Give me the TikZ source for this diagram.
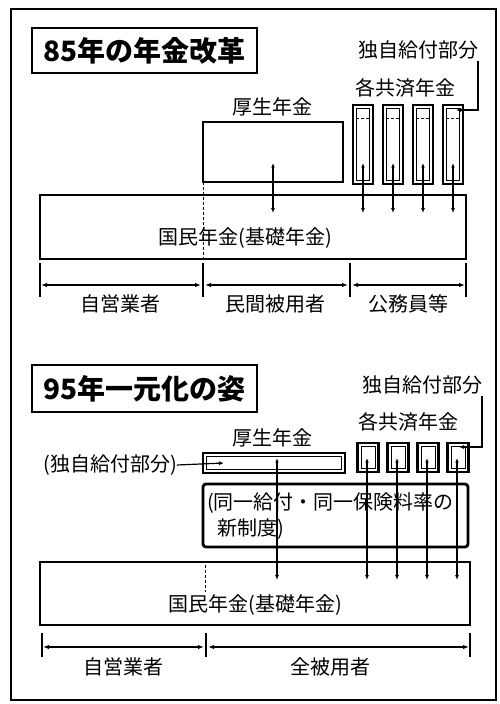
\documentclass[tikz,border=0pt]{standalone}
\usepackage{fontspec}
\setmainfont{Noto Sans CJK JP}
\usetikzlibrary{arrows.meta}
\begin{document}
\begin{tikzpicture}[x=1pt,y=-1pt,
 lbl/.style={inner sep=0pt, font=\fontsize{20}{24}\selectfont},
 ttl/.style={draw, line width=2.2pt, inner sep=0pt, font=\fontsize{28}{32}\selectfont\bfseries},
 heavy/.style={draw, line width=2.8pt, inner sep=0pt, outer sep=0pt},
 medbox/.style={draw, line width=2.3pt, inner sep=0pt, outer sep=0pt},
 innerln/.style={line width=0.8pt},
 flow/.style={line width=1.2pt, {Latex[length=4.5pt,width=3.5pt]}-{Latex[length=5pt,width=4pt]}},
 conn/.style={line width=1.2pt, -{Latex[length=5pt,width=4pt]}},
 dim/.style={line width=1.4pt, {Latex[length=6pt,width=4.5pt]}-{Latex[length=6pt,width=4.5pt]}},
 tick/.style={line width=1.2pt},
 dsh/.style={line width=1pt, dash pattern=on 3pt off 2pt},
]
\useasboundingbox (0,0) rectangle (500,704);
\node[draw, line width=1.6pt, minimum width=485pt, minimum height=691pt, inner sep=0pt] (frame) at (253.5,354.5) {};

% ---------- Section 1 ----------
\node[ttl, minimum width=225pt, minimum height=45pt] (t1) at (144.5,50.5) {85年の年金改革};
\node[lbl] (dj1) at (418,50) {独自給付部分};
\node[lbl] (kl1) at (405,88) {各共済年金};
\node[lbl] (kn1) at (272,107) {厚生年金};
\node[heavy, minimum width=140pt, minimum height=60pt] (kb1) at (273,152) {};
\node[heavy, minimum width=426pt, minimum height=64pt] (nb1) at (253,227) {};
\node[lbl] (nt1) at (245.5,238) {国民年金(基礎年金)};
\foreach \i/\x in {1/363,2/393,3/423,4/453} {
  \node[medbox, minimum width=20pt, minimum height=79pt] (ks\i) at (\x,144.5) {};
  \draw[innerln] ([shift={(3.5,3.5)}]ks\i.north west) rectangle ([shift={(-3.5,-3.5)}]ks\i.south east);
  \draw[dsh, line width=0.8pt] (\x-7,118) -- (\x+7,118);
  \coordinate (ka\i) at (\x,163);
  \coordinate (kz\i) at (\x,213);
  \draw[flow] (ka\i) -- (kz\i);
}
\coordinate (pa1) at (273,163);
\coordinate (pz1) at (273,213);
\draw[flow] (pa1) -- (pz1);
\coordinate (dja) at (478,61);
\coordinate (djb) at (456,110);
\draw[conn] (dja) |- (djb);
\draw[dsh] (kb1.south west) -- (kb1.south west |- nb1.south);

\coordinate (d1) at (40,285);
\coordinate (d2) at (203,285);
\coordinate (d3) at (350,285);
\coordinate (d4) at (466,285);
\foreach \c in {d1,d2,d3,d4} {
  \draw[tick] ([yshift=22pt]\c) -- ([yshift=-12pt]\c);
}
\draw[dim] ([xshift=1pt]d1) -- ([xshift=-2pt]d2);
\draw[dim] ([xshift=2pt]d2) -- ([xshift=-2pt]d3);
\draw[dim] ([xshift=2pt]d3) -- ([xshift=-1pt]d4);
\node[lbl] (l1) at (120,304) {自営業者};
\node[lbl] (l2) at (275,304) {民間被用者};
\node[lbl] (l3) at (408,304) {公務員等};

% ---------- Section 2 ----------
\node[ttl, minimum width=225pt, minimum height=47pt] (t2) at (144.5,388.5) {95年一元化の姿};
\node[lbl] (dj2) at (422,385) {独自給付部分};
\node[lbl] (kl2) at (408,422) {各共済年金};
\node[lbl] (kn2) at (272,438) {厚生年金};
\node[lbl] (dj3) at (110,465) {(独自給付部分)};
\node[medbox, minimum width=142pt, minimum height=20pt] (kb2) at (274,463) {};
\draw[innerln] ([shift={(3.5,3.5)}]kb2.north west) rectangle ([shift={(-3.5,-3.5)}]kb2.south east);
\node[heavy, rounded corners=3pt, minimum width=265pt, minimum height=63pt] (nw) at (335.5,515.5) {};
\node[lbl, align=left, anchor=north west, font=\fontsize{20}{26}\selectfont] (nwt) at (207,492) {(同一給付・同一保険料率の\\\hspace*{10pt}新制度)};
\node[heavy, minimum width=430pt, minimum height=63pt] (nb2) at (255,593.5) {};
\node[lbl] (nt2) at (255,605) {国民年金(基礎年金)};
\foreach \i/\x in {1/368,2/398,3/428,4/458} {
  \node[medbox, minimum width=21pt, minimum height=29pt] (kt\i) at (\x,457.5) {};
  \draw[innerln] ([shift={(3.5,3.5)}]kt\i.north west) rectangle ([shift={(-3.5,-3.5)}]kt\i.south east);
  \coordinate (kc\i) at (\x-1,458);
  \coordinate (ky\i) at (\x-1,580);
  \draw[flow] (kc\i) -- (ky\i);
}
\coordinate (pa2) at (277,458);
\coordinate (pz2) at (277,580);
\draw[flow] (pa2) -- (pz2);
\coordinate (dj2a) at (482,396);
\coordinate (dj2b) at (459,447);
\draw[conn] (dj2a) |- (dj2b);
\coordinate (kw2) at (224,463);
\draw[conn] (dj3.east) -- (kw2);
\draw[dsh] (205,565) -- (205,592);

\coordinate (e1) at (42,647);
\coordinate (e2) at (206,647);
\coordinate (e3) at (470,647);
\foreach \c in {e1,e2,e3} {
  \draw[tick] ([yshift=14pt]\c) -- ([yshift=-10pt]\c);
}
\draw[dim] ([xshift=1pt]e1) -- ([xshift=-2pt]e2);
\draw[dim] ([xshift=2pt]e2) -- ([xshift=-1pt]e3);
\node[lbl] (m1) at (123,667) {自営業者};
\node[lbl] (m2) at (330,667) {全被用者};
\end{tikzpicture}
\end{document}
